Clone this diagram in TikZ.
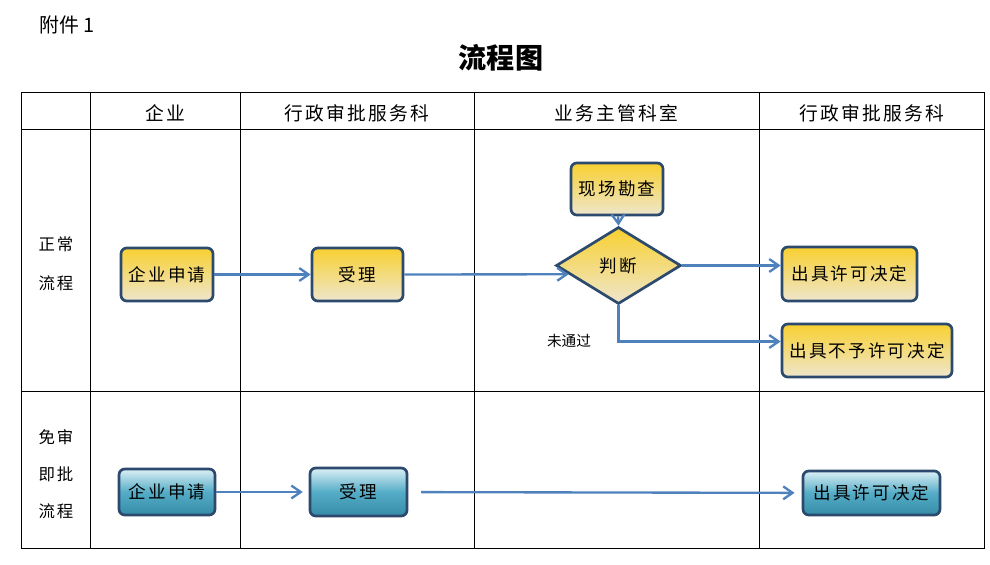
\documentclass[tikz,border=0pt]{standalone}
\usepackage{fontspec}
\setmainfont{Noto Sans CJK SC}
\newfontfamily\spaced[LetterSpace=12]{Noto Sans CJK SC}
\usetikzlibrary{arrows.meta,shapes.geometric,positioning,calc}
\definecolor{flowblue}{RGB}{79,129,189}
\definecolor{edgeblue}{RGB}{44,74,110}
\definecolor{ytop}{RGB}{248,208,48}
\definecolor{ybot}{RGB}{238,230,204}
\definecolor{btop}{RGB}{220,240,246}
\definecolor{bmid}{RGB}{84,172,198}
\definecolor{bbot}{RGB}{52,140,168}

\begin{document}
\begin{tikzpicture}[x=0.03cm,y=-0.03cm,
  box/.style={draw=edgeblue, line width=2.3pt, rounded corners=5pt, inner sep=0pt,
    font={\spaced\fontsize{15}{18}\selectfont}},
  ybox/.style={box, top color=ytop, bottom color=ybot},
  bbox/.style={box, top color=btop, bottom color=bbot, middle color=bmid},
  flow/.style={flowblue, line width=2pt, -{Straight Barb[length=8pt,width=11pt]}},
  lane/.style={font={\spaced\fontsize{16}{18}\selectfont}}]
\useasboundingbox (0,0) rectangle (990,564);

% heading
\node[anchor=west, font=\fontsize{17}{20}\selectfont] (annex) at (35,25) {附件 1};
\node[font=\bfseries\fontsize{24}{28}\selectfont] (title) at (501,58) {流程图};

% table
\draw[line width=0.8pt] (21,92) rectangle (984,548);
\foreach \x in {90,240,474,759} \draw[line width=0.8pt] (\x,92) -- (\x,548);
\foreach \y in {129,391} \draw[line width=0.8pt] (21,\y) -- (984,\y);
\foreach \x/\t in {165/企业,357/行政审批服务科,616.5/业务主管科室,871.5/行政审批服务科}
  \node[lane] at (\x,113) {\t};
\node[align=center, font={\spaced\fontsize{14}{33}\selectfont}] (normal) at (56,263.5) {正常\\流程};
\node[align=center, font={\spaced\fontsize{14}{31.5}\selectfont}] (fast) at (56,474) {免审\\即批\\流程};

% normal process
\node[ybox, minimum width=2.76cm, minimum height=1.59cm] (reqA) at (167,274.5) {企业申请};
\node[ybox, minimum width=2.73cm, minimum height=1.59cm] (accA) at (357.5,274.5) {受理};
\node[ybox, minimum width=2.76cm, minimum height=1.56cm] (survey) at (617,189) {现场勘查};
\node[diamond, aspect=1.62, draw=edgeblue, line width=2.3pt, inner sep=0pt,
  top color=ytop, bottom color=ybot, minimum width=3.75cm, minimum height=2.31cm,
  font={\spaced\fontsize{15}{18}\selectfont}] (judge) at (618.5,265.5) {判断};
\node[ybox, minimum width=4.05cm, minimum height=1.62cm] (permitA) at (849.5,274) {出具许可决定};
\node[ybox, minimum width=5.1cm, minimum height=1.59cm] (deny) at (867,350.5) {出具不予许可决定};
\node[font=\fontsize{12.5}{14}\selectfont] (fail) at (569,341) {未通过};
\coordinate (judgeIn) at ($(judge.west)!0.22!(judge.south)$);
\coordinate (denyIn) at ($(deny.west)+(0,-9)$);

\draw[flow] (reqA) -- (accA);
\draw[flow] (accA.east) -- (judgeIn);
\draw[flow] (survey) -- (judge.north);
\draw[flow] (judge.east) -- (judge.east -| permitA.west);
\draw[flow] (judge.south) |- (denyIn);

% fast process
\node[bbox, minimum width=2.88cm, minimum height=1.38cm] (reqB) at (167,492) {企业申请};
\node[bbox, minimum width=2.91cm, minimum height=1.44cm] (accB) at (358.5,492) {受理};
\node[bbox, minimum width=4.11cm, minimum height=1.32cm] (permitB) at (871.5,493) {出具许可决定};

\draw[flow, shorten >=5pt] (reqB) -- (accB);
\draw[flow, shorten <=11pt, shorten >=6pt] (accB) -- (permitB);
\end{tikzpicture}
\end{document}
